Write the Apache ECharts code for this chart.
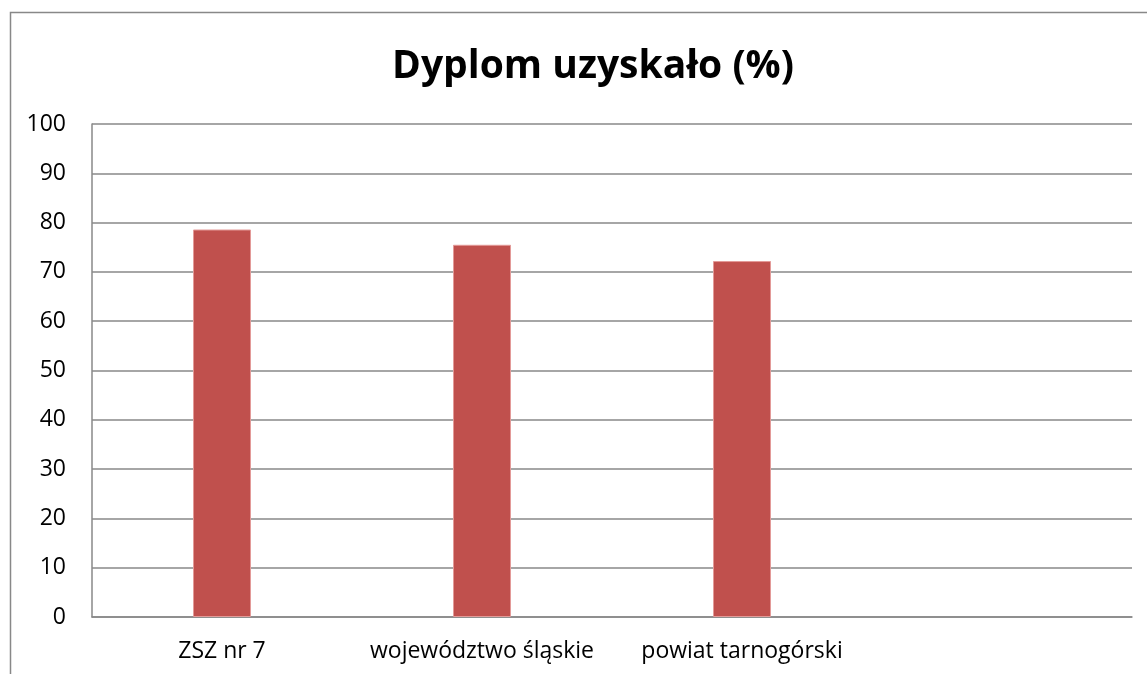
<!DOCTYPE html>
<html>
<head>
<meta charset="utf-8">
<script src="https://cdn.jsdelivr.net/npm/echarts@6/dist/echarts.min.js"></script>
<style>
  html, body { margin: 0; padding: 0; background: #fff; }
  #chart { width: 1147px; height: 674px; }
</style>
</head>
<body>
<div id="chart"></div>
<script>
const categories = ['ZSZ nr 7', 'województwo śląskie', 'powiat tarnogórski', '']
const values = [78.6, 75.5, 72.2, null]
const yTicks = { min: 0, max: 100, interval: 10 }

const chart = echarts.init(document.getElementById('chart'))
const font = '"Open Sans", "Liberation Sans", sans-serif'

chart.setOption({
  animation: false,
  backgroundColor: '#fff',
  title: {
    text: 'Dyplom uzyskało (%)',
    left: 588,
    textAlign: 'center',
    top: 42,
    textStyle: { fontFamily: font, fontSize: 39, fontWeight: 'bold', color: '#000' }
  },
  graphic: [
    {
      type: 'rect',
      shape: { x: 10.5, y: 12.5, width: 1200, height: 700 },
      style: { fill: 'none', stroke: '#888', lineWidth: 1.5 },
      silent: true
    }
  ],
  grid: { left: 92, top: 124, width: 1040, height: 493 },
  xAxis: {
    type: 'category',
    data: categories,
    axisLine: { lineStyle: { color: '#888', width: 1.5 } },
    axisTick: { show: false },
    axisLabel: {
      color: '#000', fontFamily: font, fontSize: 23, margin: 23,
      interval: 0, hideOverlap: false
    }
  },
  yAxis: {
    type: 'value',
    min: yTicks.min,
    max: yTicks.max,
    interval: yTicks.interval,
    axisLine: { show: true, lineStyle: { color: '#888', width: 1.5 } },
    axisTick: { show: false },
    splitLine: { lineStyle: { color: '#888', width: 1.5 } },
    axisLabel: { color: '#000', fontFamily: font, fontSize: 23, margin: 26 }
  },
  series: [
    {
      type: 'bar',
      data: values,
      barWidth: 58,
      itemStyle: { color: '#C0504D', borderColor: '#E39A98', borderWidth: 1 }
    }
  ]
})
</script>
</body>
</html>
